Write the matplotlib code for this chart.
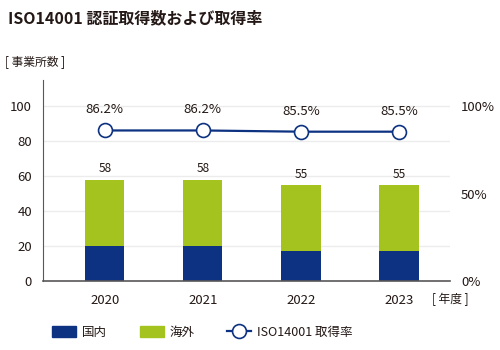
import matplotlib
matplotlib.use("Agg")
import matplotlib.pyplot as plt
from matplotlib.patches import Patch
from matplotlib.lines import Line2D
import numpy as np

plt.rcParams["font.family"] = ["Noto Sans CJK JP", "DejaVu Sans"]

years = ["2020", "2021", "2022", "2023"]
domestic = [20, 20, 17, 17]
overseas = [38, 38, 38, 38]
totals = [58, 58, 55, 55]
rate = [86.2, 86.2, 85.5, 85.5]

navy = "#0e3282"
green = "#a5c31f"
text_c = "#231815"

fig = plt.figure(figsize=(5, 3.5), dpi=100)
ax = fig.add_axes([0.086, 0.197, 0.814, 0.574])
x = np.arange(len(years))

ax.bar(x, domestic, width=0.4, color=navy, zorder=2)
ax.bar(x, overseas, width=0.4, bottom=domestic, color=green, zorder=2)
for xi, t in zip(x, totals):
    ax.text(xi, t + 2.5, str(t), ha="center", va="bottom", fontsize=8.5, color=text_c)

ax2 = ax.twinx()
ax2.plot(x, rate, color=navy, lw=1.6, marker="o", ms=10, mfc="white",
         mec=navy, mew=1.2, zorder=3)
for xi, r in zip(x, rate):
    ax2.text(xi, r + 8, f"{r}%", ha="center", va="bottom", fontsize=9.5, color=text_c)

ax.set_xlim(-0.63, 3.52)
ax.set_ylim(0, 115)
ax2.set_ylim(0, 115)
ax.set_yticks([0, 20, 40, 60, 80, 100])
ax2.set_yticks([0, 50, 100])
ax2.set_yticklabels(["0%", "50%", "100%"])
ax.set_xticks(x)
ax.set_xticklabels(years)
for a in (ax, ax2):
    a.tick_params(length=0, labelsize=9.5, colors=text_c)
ax.tick_params(axis="x", pad=9)
ax.tick_params(axis="y", pad=8)
ax2.tick_params(axis="y", pad=8)
ax.yaxis.grid(True, color="#ececec", lw=1, zorder=0)
ax.set_axisbelow(True)
for s in ["top", "right"]:
    ax.spines[s].set_visible(False)
for s in ["top", "right", "left", "bottom"]:
    ax2.spines[s].set_visible(False)
ax.spines["left"].set_color("#595757")
ax.spines["bottom"].set_color("#595757")
ax.spines["bottom"].set_linewidth(1.2)

fig.text(0.016, 0.948, "ISO14001 認証取得数および取得率", fontsize=11.5,
         fontweight="bold", color=text_c, va="center")
fig.text(0.01, 0.823, "[ 事業所数 ]", fontsize=8.5, color=text_c, va="center")
fig.text(0.865, 0.146, "[ 年度 ]", fontsize=8.5, color=text_c, va="center")

handles = [
    Patch(color=navy),
    Patch(color=green),
    Line2D([0], [0], color=navy, lw=1.6, marker="o", ms=10, mfc="white", mec=navy, mew=1.2),
]
fig.legend(handles, ["国内", "海外", "ISO14001 取得率"], loc="center left",
           bbox_to_anchor=(0.082, 0.05), ncol=3, frameon=False, fontsize=9,
           handlelength=1.9, handleheight=1.0, columnspacing=2.6, handletextpad=0.5,
           labelcolor=text_c)

fig.savefig("out.png", dpi=100)
